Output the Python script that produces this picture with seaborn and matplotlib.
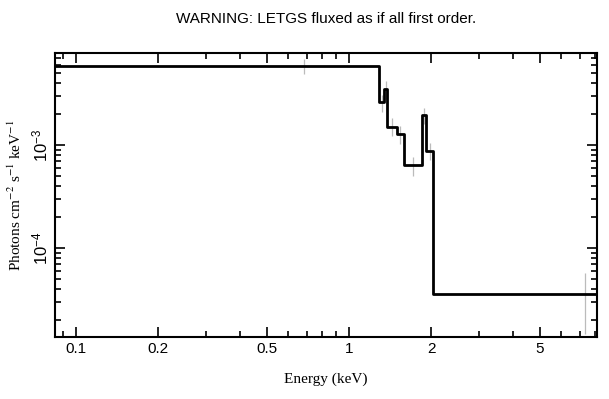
import numpy as np
import matplotlib
matplotlib.use("Agg")
import matplotlib.pyplot as plt
import seaborn as sns
from matplotlib.ticker import LogLocator, NullFormatter, FixedLocator, FixedFormatter

# bin edges (keV) and fluxed values (photons cm^-2 s^-1 keV^-1)
edges = [0.084, 1.29, 1.345, 1.38, 1.495, 1.59, 1.85, 1.91, 2.04, 12.6]
flux = [5.9e-3, 2.59e-3, 3.52e-3, 1.51e-3, 1.27e-3, 6.33e-4, 1.94e-3, 8.8e-4, 3.57e-5]
err = [1.0e-3, 0.5e-3, 0.7e-3, 0.3e-3, 0.25e-3, 1.3e-4, 0.35e-3, 0.17e-3, 2.1e-5]

xticks = [0.1, 0.2, 0.5, 1, 2, 5]
xticklabels = ["0.1", "0.2", "0.5", "1", "2", "5"]

sns.set_style("ticks")
plt.rcParams["font.family"] = ["Liberation Sans", "DejaVu Sans"]
plt.rcParams["mathtext.fontset"] = "custom"
plt.rcParams["mathtext.rm"] = "Liberation Sans"
plt.rcParams["mathtext.it"] = "Liberation Sans"
plt.rcParams["text.color"] = "black"
plt.rcParams["axes.labelcolor"] = "black"

fig = plt.figure(figsize=(6.09, 3.99), dpi=100)
ax = fig.add_axes([0.0903, 0.1554, 0.8897, 0.7116])

centers = [(edges[i] + edges[i + 1]) / 2 for i in range(len(flux))]
ax.errorbar(centers, flux, yerr=err, fmt="none", ecolor="#bbbbbb", elinewidth=0.9, capsize=0)

sns.lineplot(x=edges, y=flux + [flux[-1]], drawstyle="steps-post", color="black",
             linewidth=2.0, estimator=None, sort=False, ax=ax)

ax.set_xscale("log")
ax.set_yscale("log")
ax.set_xlim(0.0838, 8.1)
ax.set_ylim(1.37e-5, 7.8e-3)

ax.xaxis.set_major_locator(FixedLocator(xticks))
ax.xaxis.set_major_formatter(FixedFormatter(xticklabels))
ax.xaxis.set_minor_locator(LogLocator(base=10, subs=np.arange(2, 10)))
ax.xaxis.set_minor_formatter(NullFormatter())
ax.yaxis.set_minor_locator(LogLocator(base=10, subs=np.arange(2, 10)))
ax.yaxis.set_minor_formatter(NullFormatter())

ax.tick_params(which="both", direction="in", top=True, right=True, width=1.2,
               colors="black", labelcolor="black")
ax.tick_params(which="major", length=7, labelsize=11)
ax.tick_params(which="minor", length=4)
ax.tick_params(axis="y", labelrotation=90, pad=3, labelsize=12)
for lab in ax.get_yticklabels():
    lab.set_verticalalignment("center")
for s in ax.spines.values():
    s.set_linewidth(1.5)
    s.set_color("black")

ax.set_title("WARNING: LETGS fluxed as if all first order.", fontsize=11, pad=22, color="black")
ax.set_xlabel("Energy (keV)", family="Liberation Serif", fontsize=11, labelpad=12)
ax.set_ylabel("Photons cm$^{-2}$ s$^{-1}$ keV$^{-1}$", family="Liberation Serif",
              math_fontfamily="stix", fontsize=11, labelpad=5)

fig.savefig("out.png", dpi=100)
